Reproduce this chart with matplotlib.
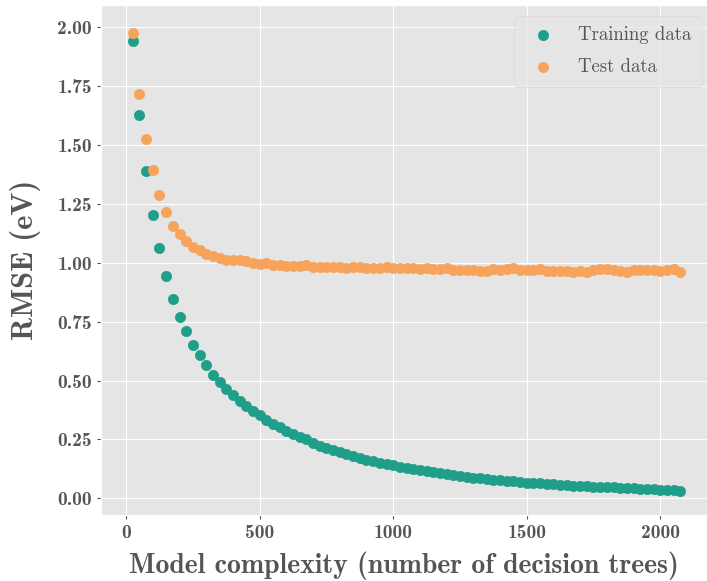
import matplotlib
matplotlib.use("Agg")
import matplotlib.pyplot as plt
import numpy as np

plt.style.use("ggplot")
plt.rcParams["axes.unicode_minus"] = False

n_trees = list(range(25, 2076, 25))

train_rmse = [
    1.942, 1.629, 1.391, 1.203, 1.062, 0.944, 0.847, 0.771, 0.709, 0.653,
    0.607, 0.564, 0.524, 0.494, 0.466, 0.439, 0.414, 0.390, 0.371, 0.353,
    0.331, 0.315, 0.304, 0.285, 0.271, 0.261, 0.250, 0.236, 0.223, 0.215,
    0.206, 0.196, 0.188, 0.179, 0.171, 0.164, 0.158, 0.151, 0.147, 0.140,
    0.134, 0.130, 0.126, 0.121, 0.117, 0.113, 0.108, 0.104, 0.099, 0.095,
    0.091, 0.088, 0.085, 0.082, 0.079, 0.076, 0.074, 0.072, 0.069, 0.067,
    0.065, 0.063, 0.061, 0.059, 0.057, 0.055, 0.054, 0.052, 0.051, 0.049,
    0.048, 0.047, 0.046, 0.044, 0.043, 0.042, 0.041, 0.040, 0.038, 0.037,
    0.036, 0.034, 0.033,
]

test_rmse = [
    1.974, 1.716, 1.526, 1.393, 1.288, 1.217, 1.157, 1.121, 1.093, 1.067,
    1.054, 1.038, 1.029, 1.021, 1.014, 1.012, 1.010, 1.008, 0.998, 0.997,
    1.000, 0.992, 0.991, 0.987, 0.986, 0.987, 0.992, 0.981, 0.984, 0.981,
    0.984, 0.981, 0.977, 0.982, 0.981, 0.979, 0.976, 0.979, 0.984, 0.976,
    0.977, 0.980, 0.977, 0.972, 0.976, 0.972, 0.973, 0.980, 0.969, 0.969,
    0.970, 0.970, 0.965, 0.965, 0.972, 0.970, 0.972, 0.976, 0.970, 0.970,
    0.968, 0.972, 0.966, 0.966, 0.965, 0.966, 0.963, 0.966, 0.962, 0.969,
    0.972, 0.972, 0.969, 0.966, 0.963, 0.968, 0.969, 0.970, 0.969, 0.965,
    0.968, 0.973, 0.960,
]

series_labels = ["Training data", "Test data"]
x_ticks = [0, 500, 1000, 1500, 2000]
y_ticks = [0.00, 0.25, 0.50, 0.75, 1.00, 1.25, 1.50, 1.75, 2.00]

TXT = "#555555"
fig = plt.figure(figsize=(7.07, 5.81), dpi=100)
ax = fig.add_axes([101 / 707, 66 / 581, 606 / 707, 510 / 581])

ax.scatter(n_trees, train_rmse, s=55, color="#1f9e8a", label=series_labels[0], zorder=3)
ax.scatter(n_trees, test_rmse, s=55, color="#f7a35b", label=series_labels[1], zorder=3)

ax.set_xlim(-94, 2175)
ax.set_ylim(-0.071, 2.095)
ax.set_xticks(x_ticks)
ax.set_yticks(y_ticks)
ax.set_xticklabels([str(v) for v in x_ticks], fontfamily="cmb10", fontsize=14, color=TXT)
ax.set_yticklabels([f"{v:.2f}" for v in y_ticks], fontfamily="cmb10", fontsize=14, color=TXT)
ax.tick_params(colors=TXT, length=3)

ax.set_xlabel("Model complexity (number of decision trees)", fontfamily="cmb10",
              fontsize=20, color=TXT, labelpad=7)
ax.set_ylabel("RMSE (eV)", fontfamily="cmb10", fontsize=22, color=TXT, labelpad=12)

leg = ax.legend(loc="upper right",
                bbox_to_anchor=((702 - 101) / 606, 1 - (16 - 5) / 510),
                borderaxespad=0,
                prop={"family": "cmr10", "size": 13.5},
                labelcolor=TXT, facecolor="#e5e5e5", edgecolor="#d8d8d8",
                framealpha=0.8, borderpad=0.55, handletextpad=0.9, labelspacing=0.75)

fig.savefig("out.png", dpi=100)
